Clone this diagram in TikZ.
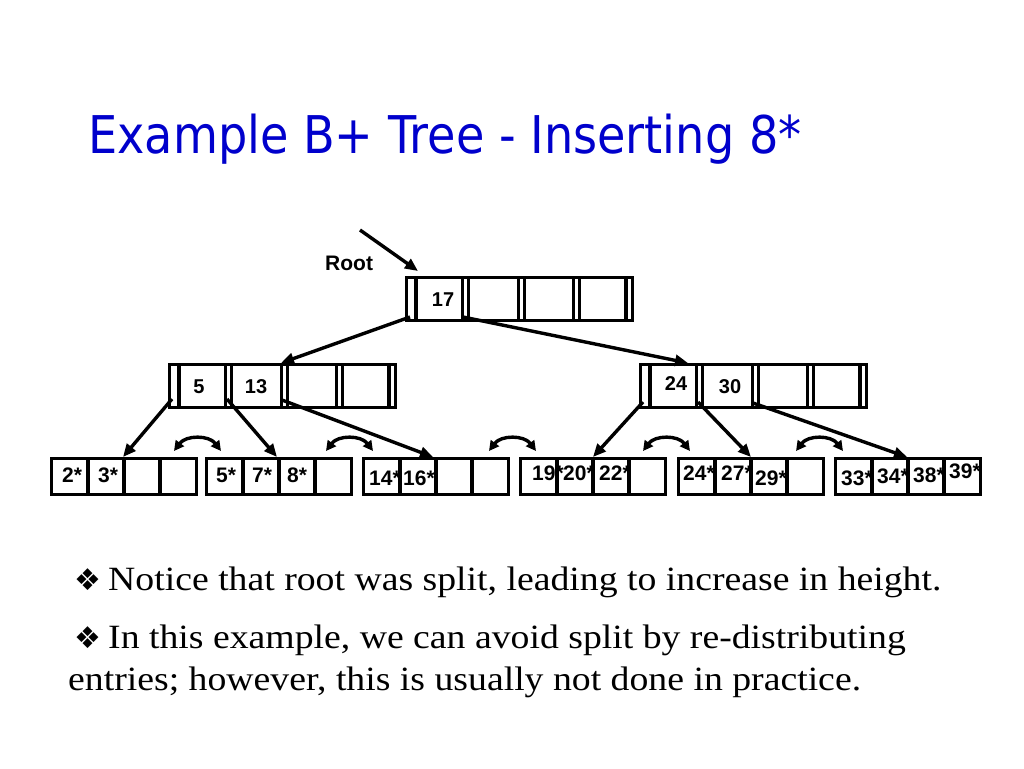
\documentclass[tikz,border=0pt]{standalone}
\usepackage{fontspec}
\setmainfont{Liberation Serif}
\setsansfont{Liberation Sans}
\newfontfamily\titlefont{DejaVu Sans}
\newfontfamily\symfont{DejaVu Sans}
\usetikzlibrary{arrows.meta}
\definecolor{titleblue}{RGB}{0,0,204}
\newcommand\innerbox[3]{%
  \node[nodebox, minimum width=226pt, minimum height=43pt] (#1) at (#2,#3) {};
  \foreach \o in {9.5,56,62,112,118,167,173,219.5}
    \draw[cellline] (#2+\o,#3) -- (#2+\o,#3+43);
}
\newcommand\leafbox[3]{%
  \node[nodebox, minimum width=145pt, minimum height=36pt] (#1) at (#2,#3) {};
  \foreach \o in {36.25,72.5,108.75}
    \draw[cellline] (#2+\o,#3) -- (#2+\o,#3+36);
}
\newcommand\bodytext[1]{\scalebox{1.11}[1]{#1}}
\begin{document}
\begin{tikzpicture}[x=1pt,y=-1pt]
\tikzset{
  nodebox/.style={draw=black, line width=3.6pt, anchor=north west, inner sep=0pt, outer sep=0pt},
  cellline/.style={line width=3.6pt},
  ptr/.style={line width=3.4pt, -{Triangle[length=13pt,width=11pt]}},
  sib/.style={line width=3.4pt, {Triangle[length=10pt,width=10pt]}-{Triangle[length=10pt,width=10pt]}},
  key/.style={font=\sffamily\bfseries\fontsize{20}{20}\selectfont, inner sep=0pt, anchor=base},
  leafkey/.style={font=\sffamily\bfseries\fontsize{21}{21}\selectfont, inner sep=0pt, anchor=base west},
  body/.style={font=\fontsize{34}{34}\selectfont, inner sep=0pt, anchor=base west},
  bullet/.style={font=\symfont\fontsize{30}{30}\selectfont, inner sep=0pt, anchor=base west},
}
\useasboundingbox (0,0) rectangle (1024,768);
\fill[white] (0,0) rectangle (1024,768);

% title
\node[anchor=base west, inner sep=0pt, text=titleblue, font=\titlefont\fontsize{52}{52}\selectfont] (title) at (88,153) {\scalebox{0.888}[1]{Example B+ Tree - Inserting 8*}};

% root
\innerbox{root}{406.5}{277.5}
\node[key] (k17) at (443,306) {17};
\node[anchor=base west, inner sep=0pt, font=\sffamily\bfseries\fontsize{21}{21}\selectfont] (rootlbl) at (325,270) {Root};
\coordinate (rootfrom) at (360,230);
\coordinate (rootto) at (418,271);
\draw[ptr] (rootfrom) -- (rootto);

% inner nodes
\innerbox{inA}{169.5}{364.5}
\innerbox{inB}{640.5}{364.5}
\node[key] (k5) at (199,393) {5};
\node[key] (k13) at (256,393) {13};
\node[key] (k24) at (676,390) {24};
\node[key] (k30) at (730,393) {30};

% leaves
\leafbox{L1}{51.5}{458.5}
\leafbox{L2}{206.5}{458.5}
\leafbox{L3}{363.5}{458.5}
\leafbox{L4}{520.5}{458.5}
\leafbox{L5}{678.5}{458.5}
\leafbox{L6}{835.5}{458.5}

\node[leafkey] (l2) at (62,482) {2*};
\node[leafkey] (l3) at (98,482) {3*};
\node[leafkey] (l5) at (216,482) {5*};
\node[leafkey] (l7) at (252,482) {7*};
\node[leafkey] (l8) at (287,482) {8*};
\node[leafkey] (l14) at (369,485) {14*};
\node[leafkey] (l16) at (403,485) {16*};
\node[leafkey] (l19) at (532,480) {19*};
\node[leafkey] (l20) at (563,480) {20*};
\node[leafkey] (l22) at (599,480) {22*};
\node[leafkey] (l24) at (683,480) {24*};
\node[leafkey] (l27) at (721,480) {27*};
\node[leafkey] (l29) at (755,485) {29*};
\node[leafkey] (l33) at (841,485) {33*};
\node[leafkey] (l34) at (877,483) {34*};
\node[leafkey] (l38) at (913,482) {38*};
\node[leafkey] (l39) at (949,478) {39*};

% pointer start coordinates
\coordinate (r-p0) at (410,317);
\coordinate (r-p1) at (463,317);
\coordinate (a-p0) at (172,399);
\coordinate (a-p1) at (227,399);
\coordinate (a-p2) at (282,400);
\coordinate (b-p0) at (643,402);
\coordinate (b-p1) at (698,402);
\coordinate (b-p2) at (753,403);
% pointer targets
\coordinate (inA-in) at (281,363);
\coordinate (inB-in) at (688,363);
\coordinate (L1-in) at (123,457);
\coordinate (L2-in) at (277,457);
\coordinate (L3-in) at (433,457);
\coordinate (L4-in) at (593,457);
\coordinate (L5-in) at (751,457);
\coordinate (L6-in) at (907,457);

\draw[ptr] (r-p0) -- (inA-in);
\draw[ptr] (r-p1) -- (inB-in);
\draw[ptr] (a-p0) -- (L1-in);
\draw[ptr] (a-p1) -- (L2-in);
\draw[ptr] (a-p2) -- (L3-in);
\draw[ptr] (b-p0) -- (L4-in);
\draw[ptr] (b-p1) -- (L5-in);
\draw[ptr] (b-p2) -- (L6-in);

% sibling links
\foreach \c/\n in {198/s1,350/s2,513/s3,667/s4,820/s5}{
  \coordinate (\n-a) at (\c-24,451);
  \coordinate (\n-b) at (\c+23,451);
  \draw[sib] (\n-a) .. controls (\c-12,435) and (\c+11,435) .. (\n-b);
}

% text
\node[bullet] (b1) at (74,590) {❖};
\node[body] (t1) at (108,590) {\bodytext{Notice that root was split, leading to increase in height.}};
\node[bullet] (b2) at (74,648) {❖};
\node[body] (t2) at (108,648) {\bodytext{In this example, we can avoid split by re-distributing}};
\node[body] (t3) at (68,690) {\bodytext{entries; however, this is usually not done in practice.}};
\end{tikzpicture}
\end{document}
